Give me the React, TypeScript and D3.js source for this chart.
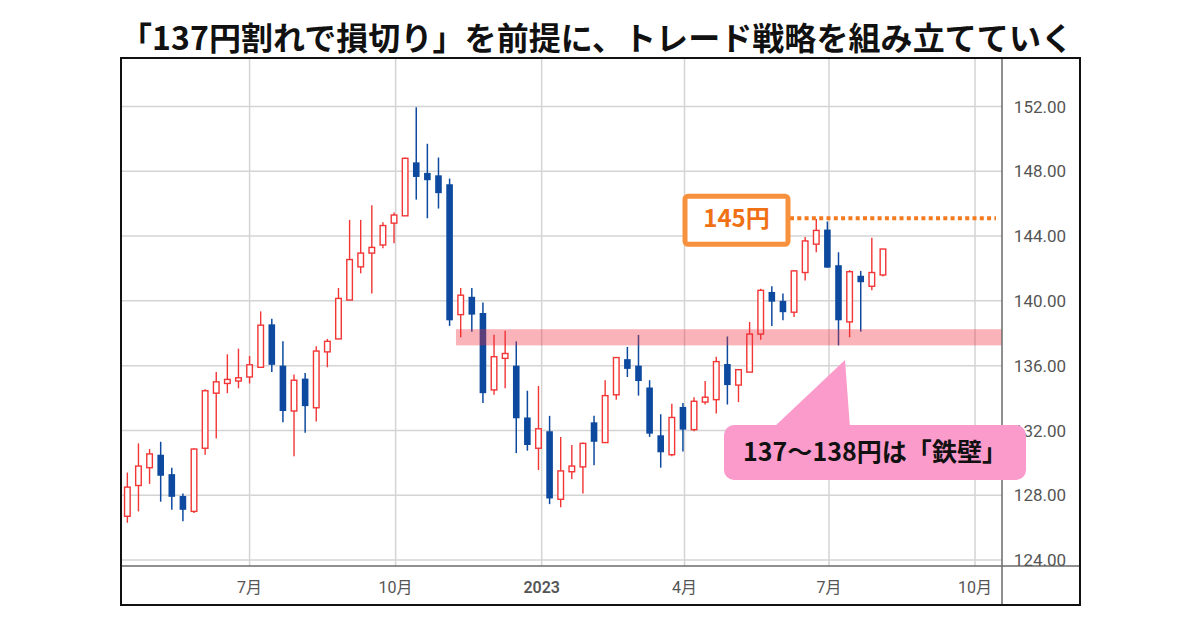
import * as d3 from "d3";

// weekly USD/JPY candles, first week starting mid-April 2022
const START = Date.UTC(2022, 3, 15);
const WEEK = 7 * 86400000;

const opens = [
  126.7, 128.6, 129.7, 130.5, 129.3, 127.95, 127.0, 130.9, 134.3, 134.9,
  135.05, 135.3, 135.9, 138.55, 136.0, 133.2, 135.2, 133.4, 136.85, 137.65,
  140.05, 142.1, 142.95, 143.45, 144.8, 145.25, 148.55, 147.9, 147.75, 147.2,
  139.15, 140.25, 139.25, 134.5, 136.45, 136.0, 132.8, 130.9, 131.95, 127.75,
  129.45, 129.75, 132.5, 131.25, 134.2, 136.4, 136.0, 134.65, 131.7, 130.5,
  133.45, 132.05, 133.75, 133.9, 136.1, 134.8, 135.6, 137.95, 140.55, 140.0,
  139.3, 141.75, 143.5, 144.4, 142.2, 138.7, 141.55, 140.9, 141.6,
];
const highs = [
  129.4, 131.2, 130.85, 131.3, 129.7, 128.1, 130.9, 134.55, 135.6, 136.7,
  137.05, 136.6, 139.35, 138.9, 137.5, 135.45, 135.55, 137.2, 137.65, 140.8,
  145.0, 145.0, 145.9, 144.85, 145.45, 148.85, 151.95, 149.7, 148.85, 147.55,
  140.8, 140.8, 139.9, 137.9, 138.15, 137.5, 134.45, 134.75, 132.9, 131.6,
  131.1, 131.25, 132.9, 135.1, 136.5, 137.15, 137.9, 135.1, 133.0, 133.65,
  133.7, 134.05, 135.05, 136.55, 137.8, 135.75, 138.7, 140.75, 140.9, 140.45,
  141.9, 143.95, 145.05, 144.9, 143.0, 141.9, 141.85, 143.9, 143.2,
];
const lows = [
  126.3, 127.0, 128.7, 127.6, 127.1, 126.4, 126.9, 130.5, 131.5, 134.3,
  134.6, 134.9, 135.9, 135.6, 132.5, 130.4, 131.85, 132.55, 135.9, 137.65,
  140.05, 141.7, 140.45, 143.25, 143.55, 145.25, 146.25, 145.1, 145.7, 138.45,
  137.75, 138.1, 133.7, 134.2, 134.6, 130.6, 130.75, 129.55, 127.45, 127.25,
  129.0, 128.1, 129.85, 131.25, 133.9, 135.3, 134.15, 131.6, 129.7, 130.4,
  130.7, 131.95, 133.6, 133.05, 133.6, 133.75, 135.6, 137.6, 138.45, 138.8,
  139.0, 141.25, 143.0, 142.05, 137.25, 137.75, 138.1, 140.65, 141.5,
];
const closes = [
  128.5, 129.8, 130.55, 129.2, 127.9, 127.1, 130.85, 134.45, 135.0, 135.15,
  135.25, 136.05, 138.5, 136.05, 133.2, 135.1, 133.5, 136.9, 137.5, 140.15,
  142.55, 142.95, 143.3, 144.65, 145.3, 148.8, 147.65, 147.45, 146.65, 138.8,
  140.35, 139.15, 134.3, 136.55, 136.75, 132.75, 131.1, 132.1, 127.8, 129.5,
  129.8, 131.2, 131.3, 134.15, 136.5, 135.8, 135.05, 131.8, 130.65, 132.8,
  132.05, 133.8, 134.05, 136.25, 134.8, 135.75, 137.95, 140.65, 139.95, 139.3,
  141.85, 143.7, 144.35, 142.05, 138.8, 141.8, 141.15, 141.75, 143.2,
];

const yTicks = [124, 128, 132, 136, 140, 144, 148, 152];
const SUPPORT_LOW = 137.25;
const SUPPORT_HIGH = 138.25;
const BAND_FROM = new Date(Date.UTC(2022, 10, 8));
const RESISTANCE = 145.1;

const TITLE = "「137円割れで損切り」を前提に、トレード戦略を組み立てていく";
const RES_LABEL = "145円";
const CALLOUT = "137～138円は「鉄壁」";

const RED = "#f23535";
const BLUE = "#0d4a9f";
const GRID = "#d4d4d4";
const LABEL = "#555555";

const W = 1200;
const H = 630;
const frame = { left: 121, top: 58, right: 1080, bottom: 605 };
const plotRight = 1002;
const axisY = 566;

const candles = opens.map((o, i) => ({
  date: new Date(START + i * WEEK),
  open: o,
  high: highs[i],
  low: lows[i],
  close: closes[i],
}));

export default function App() {
  const x = d3
    .scaleUtc()
    .domain([new Date(Date.UTC(2022, 3, 11)), new Date(Date.UTC(2023, 9, 18))])
    .range([frame.left, plotRight]);
  const y = d3.scaleLinear().domain([124, 152]).range([560, 106.5]);

  const xTicks = x.ticks(d3.utcMonth.every(3)!);
  const fmtX = (d: Date) =>
    d.getUTCMonth() === 0 ? String(d.getUTCFullYear()) : `${d.getUTCMonth() + 1}月`;

  const resY = y(RESISTANCE);

  return (
    <svg
      width={W}
      height={H}
      style={{ position: "absolute", left: 0, top: 0, background: "#fff" }}
    >
      <defs>
        <clipPath id="ylab">
          <rect x={plotRight} y={frame.top} width={frame.right - plotRight} height={axisY - frame.top} />
        </clipPath>
      </defs>
      <rect width={W} height={H} fill="#fff" />

      <text
        x={596.5}
        y={50}
        textAnchor="middle"
        fontFamily="'Noto Sans CJK JP', sans-serif"
        fontWeight={700}
        fontSize={32}
        textLength={953}
        lengthAdjust="spacing"
        fill="#111"
      >
        {TITLE}
      </text>

      {/* grid */}
      {yTicks.map((t) => (
        <line key={t} x1={frame.left} x2={plotRight} y1={y(t)} y2={y(t)} stroke={GRID} strokeWidth={1.5} />
      ))}
      {xTicks.map((d) => (
        <line key={+d} x1={x(d)} x2={x(d)} y1={frame.top} y2={axisY} stroke={GRID} strokeWidth={1.5} />
      ))}

      {/* candles */}
      {candles.map((c, i) => {
        const cx = x(c.date);
        const top = y(Math.max(c.open, c.close));
        const bot = y(Math.min(c.open, c.close));
        if (c.close >= c.open) {
          return (
            <g key={i} stroke={RED} strokeWidth={1.4}>
              <line x1={cx} x2={cx} y1={y(c.high)} y2={top} />
              <line x1={cx} x2={cx} y1={bot} y2={y(c.low)} />
              <rect x={cx - 2.8} y={top} width={5.6} height={Math.max(1, bot - top)} fill="#fff" />
            </g>
          );
        }
        return (
          <g key={i}>
            <line x1={cx} x2={cx} y1={y(c.high)} y2={y(c.low)} stroke={BLUE} strokeWidth={1.5} />
            <rect x={cx - 3.3} y={top} width={6.6} height={Math.max(1.5, bot - top)} fill={BLUE} />
          </g>
        );
      })}

      {/* support band */}
      <rect
        x={x(BAND_FROM)}
        y={y(SUPPORT_HIGH)}
        width={plotRight - x(BAND_FROM)}
        height={y(SUPPORT_LOW) - y(SUPPORT_HIGH)}
        fill="#f02937"
        fillOpacity={0.35}
      />

      {/* resistance line + label */}
      <line
        x1={790}
        x2={996}
        y1={resY}
        y2={resY}
        stroke="#f47a20"
        strokeWidth={4}
        strokeDasharray="4 3.3"
      />
      <rect
        x={685}
        y={resY - 22}
        width={103}
        height={48}
        rx={3}
        fill="#fff"
        stroke="#f7913d"
        strokeWidth={5}
      />
      <text
        x={736.5}
        y={resY + 8.5}
        textAnchor="middle"
        fontFamily="'Noto Sans CJK JP', sans-serif"
        fontWeight={700}
        fontSize={24}
        fill="#f07016"
      >
        {RES_LABEL}
      </text>

      {/* axes */}
      <line x1={plotRight} x2={plotRight} y1={frame.top} y2={frame.bottom} stroke="#6a6a6a" strokeWidth={1.5} />
      <line x1={frame.left} x2={frame.right} y1={axisY} y2={axisY} stroke="#6a6a6a" strokeWidth={1.5} />

      <g clipPath="url(#ylab)">
        {yTicks.map((t) => (
          <text
            key={t}
            x={1040}
            y={y(t)}
            dy="0.36em"
            textAnchor="middle"
            fontFamily="Roboto, 'Noto Sans CJK JP', sans-serif"
            fontSize={17}
            fill={LABEL}
          >
            {t.toFixed(2)}
          </text>
        ))}
      </g>
      {xTicks.map((d) => (
        <text
          key={+d}
          x={x(d)}
          y={587}
          dy="0.36em"
          textAnchor="middle"
          fontFamily="Roboto, 'Noto Sans CJK JP', sans-serif"
          fontSize={16}
          fontWeight={d.getUTCMonth() === 0 ? 600 : 400}
          fill={LABEL}
        >
          {fmtX(d)}
        </text>
      ))}

      <rect
        x={frame.left}
        y={frame.top}
        width={frame.right - frame.left}
        height={frame.bottom - frame.top}
        fill="none"
        stroke="#111"
        strokeWidth={2}
      />

      {/* callout */}
      <path d="M773,428 L845,360 L850,428 Z" fill="#fb9bcb" />
      <rect x={724} y={425} width={302} height={55} rx={10} fill="#fb9bcb" />
      <text
        x={875}
        y={461}
        textAnchor="middle"
        fontFamily="'Noto Sans CJK JP', sans-serif"
        fontWeight={700}
        fontSize={25}
        textLength={264}
        lengthAdjust="spacing"
        fill="#111"
      >
        {CALLOUT}
      </text>
    </svg>
  );
}
